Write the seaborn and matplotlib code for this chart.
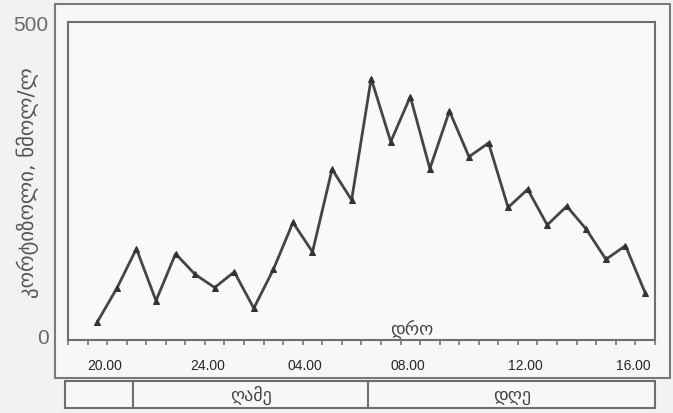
import numpy as np
import pandas as pd
import matplotlib
matplotlib.use("Agg")
import matplotlib.pyplot as plt
import seaborn as sns
from matplotlib.patches import Rectangle

# cortisol samples, roughly every 40-45 min from ~20:00 to ~16:00
values = [21, 75, 138, 55, 130, 97, 76, 101, 43, 105, 180, 133, 265, 216,
          410, 309, 381, 266, 358, 285, 307, 204, 233, 176, 206, 169, 121, 143, 68]
tick_labels = ["20.00", "24.00", "04.00", "08.00", "12.00", "16.00"]
tick_pos = [0.4, 5.65, 10.6, 15.9, 21.9, 27.4]
y_label = "კორტიზოლი, ნმოლ/ლ"
x_label = "დრო"
period_labels = ["", "ღამე", "დღე"]

df = pd.DataFrame({"i": np.arange(len(values)), "v": values})

sns.set_style("white")
plt.rcParams["font.family"] = ["DejaVu Sans"]

fig = plt.figure(figsize=(6.73, 4.14), dpi=100, facecolor="#f2f2f0")

# outer frame
fig.patches.append(Rectangle((0.082, 0.085), 0.914, 0.903, transform=fig.transFigure,
                             fill=True, facecolor="#f7f7f5", edgecolor="#7a7a7a", lw=1.5, zorder=-1))

ax = fig.add_axes([0.101, 0.176, 0.872, 0.768])
ax.set_facecolor("#f9f9f7")
sns.lineplot(data=df, x="i", y="v", ax=ax, color="#454545", lw=2.0,
             marker="^", markersize=4.5, markeredgecolor="#333333", markerfacecolor="#333333")

ax.set_xlim(-1.5, 28.45)
ax.set_ylim(-8, 500)
for s in ax.spines.values():
    s.set_color("#6e6e6e")
    s.set_linewidth(1.5)

ax.set_xticks(tick_pos)
ax.set_xticklabels(tick_labels, family="Liberation Sans", fontsize=10, color="#262626")
ax.set_xticks(np.arange(-1.5, 28.6, 1.0), minor=True)
ax.tick_params(axis="x", which="major", length=0, pad=13)
ax.tick_params(axis="x", which="minor", bottom=True, length=3.5, width=1.2,
               color="#777777", direction="out")

ax.set_yticks([0, 500])
ax.set_yticklabels(["0", "500"], family="Liberation Sans", fontsize=15, color="#6a6a6a")
ax.tick_params(axis="y", length=0, pad=14)

ax.set_xlabel(x_label, fontsize=13, color="#444444", va="center")
ax.xaxis.set_label_coords(0.586, 0.04)
ax.set_ylabel(y_label, fontsize=15, color="#555555")
ax.yaxis.set_label_coords(-0.05, 0.5)

# day / night strip under the chart
tb = fig.add_axes([0.0966, 0.012, 0.877, 0.065])
tb.set_xlim(0, 1)
tb.set_ylim(0, 1)
tb.set_facecolor("#f7f7f5")
tb.set_xticks([])
tb.set_yticks([])
for s in tb.spines.values():
    s.set_color("#6e6e6e")
    s.set_linewidth(1.5)
edges = [0, 0.115, 0.514, 1]
for e in edges[1:-1]:
    tb.axvline(e, color="#6e6e6e", lw=1.5)
for k, lab in enumerate(period_labels):
    tb.text((edges[k] + edges[k + 1]) / 2, 0.5, lab, ha="center", va="center",
            fontsize=13, color="#444444")

fig.savefig("out.png", dpi=100, facecolor=fig.get_facecolor())
